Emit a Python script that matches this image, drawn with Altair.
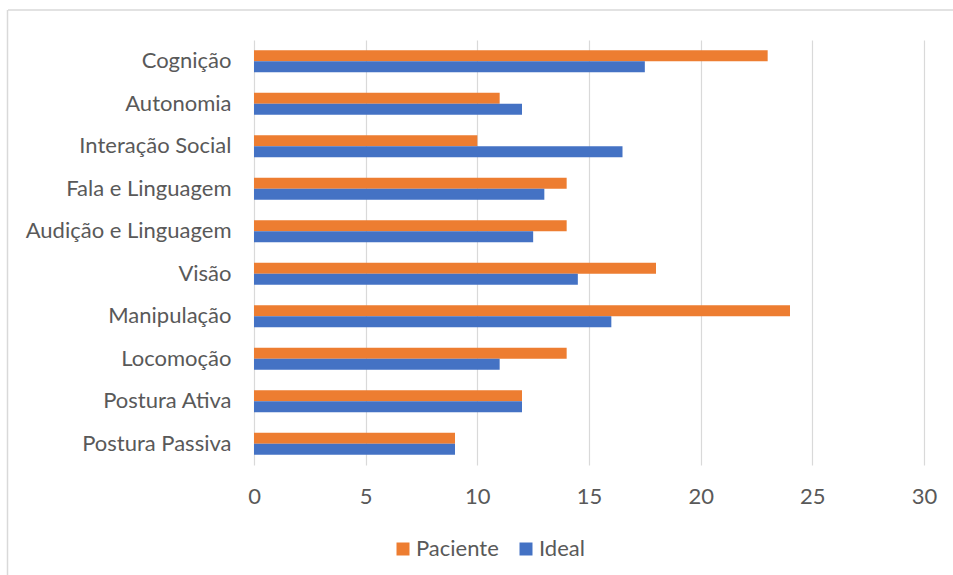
import altair as alt
import pandas as pd

# Domains assessed, listed top to bottom
categories = [
    "Cognição",
    "Autonomia",
    "Interação Social",
    "Fala e Linguagem",
    "Audição e Linguagem",
    "Visão",
    "Manipulação",
    "Locomoção",
    "Postura Ativa",
    "Postura Passiva",
]
paciente = [23, 11, 10, 14, 14, 18, 24, 14, 12, 9]
ideal = [17.5, 12, 16.5, 13, 12.5, 14.5, 16, 11, 12, 9]
series = ["Paciente", "Ideal"]
x_ticks = [0, 5, 10, 15, 20, 25, 30]

ORANGE = "#ED7D31"
BLUE = "#4472C4"
TEXT = "#595959"
GRID = "#D9D9D9"
FONT = "Lato"
FS = 22

rows = []
for cat, p, i in zip(categories, paciente, ideal):
    rows.append({"dominio": cat, "serie": "Paciente", "valor": p})
    rows.append({"dominio": cat, "serie": "Ideal", "valor": i})
df = pd.DataFrame(rows)

W, H = 670, 425
PAD_L, PAD_T = 254, 40

bars = (
    alt.Chart(df)
    .mark_bar()
    .encode(
        x=alt.X(
            "valor:Q",
            scale=alt.Scale(domain=[0, 30], nice=False),
            axis=alt.Axis(
                title=None,
                values=x_ticks,
                grid=True,
                gridColor=GRID,
                gridWidth=1.2,
                domain=False,
                ticks=False,
                tickSize=0,
                labelFlush=False,
                labelFont=FONT,
                labelFontSize=FS,
                labelColor=TEXT,
                labelBaseline="alphabetic",
                labelPadding=38,
            ),
        ),
        y=alt.Y(
            "dominio:N",
            sort=categories,
            scale=alt.Scale(paddingInner=0.482, paddingOuter=0.241),
            axis=alt.Axis(
                title=None,
                domain=False,
                ticks=False,
                tickSize=0,
                labelFont=FONT,
                labelFontSize=FS,
                labelColor=TEXT,
                labelPadding=23,
                labelLimit=300,
            ),
        ),
        yOffset=alt.YOffset(
            "serie:N",
            sort=series,
            scale=alt.Scale(paddingInner=0, paddingOuter=0),
        ),
        color=alt.Color(
            "serie:N",
            scale=alt.Scale(domain=series, range=[ORANGE, BLUE]),
            legend=alt.Legend(
                title=None,
                orient="none",
                direction="horizontal",
                legendX=138,
                legendY=498,
                padding=0,
                symbolType="square",
                symbolSize=169,
                symbolStrokeWidth=0,
                labelFont=FONT,
                labelFontSize=FS,
                labelColor=TEXT,
                labelOffset=2,
                columnPadding=16,
            ),
        ),
    )
)

# Light frame along the top and left of the figure
frame_src = pd.DataFrame({"k": [0]})
top_line = (
    alt.Chart(frame_src)
    .mark_rule(color=GRID, strokeWidth=1.5)
    .encode(x=alt.value(-246), x2=alt.value(953 - PAD_L), y=alt.value(-30))
)
left_line = (
    alt.Chart(frame_src)
    .mark_rule(color=GRID, strokeWidth=1.5)
    .encode(x=alt.value(-246.5), y=alt.value(-30), y2=alt.value(575 - PAD_T))
)

chart = (
    alt.layer(bars, top_line, left_line)
    .properties(
        width=W,
        height=H,
        autosize=alt.AutoSizeParams(type="none"),
        padding={"left": PAD_L, "top": PAD_T, "right": 953 - PAD_L - W, "bottom": 575 - PAD_T - H},
        background="white",
    )
    .configure_view(stroke=None)
)

chart.save("out.html", embed_options={"renderer": "svg", "actions": False})
